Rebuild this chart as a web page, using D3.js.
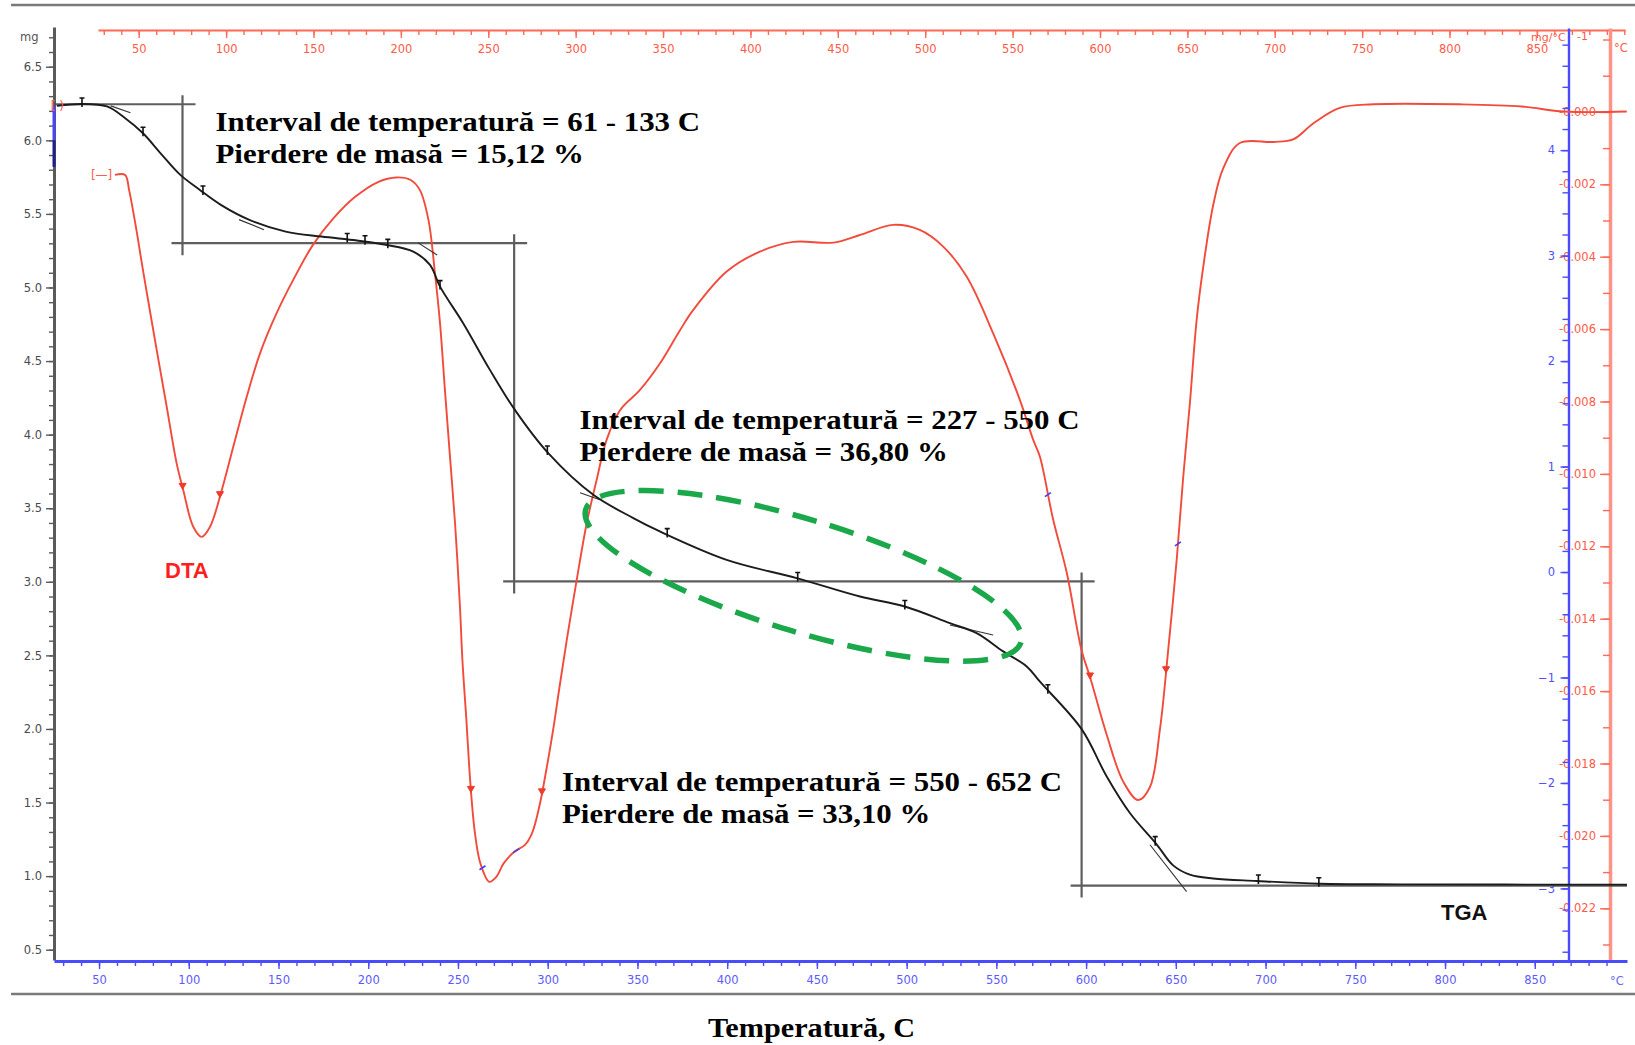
<!DOCTYPE html>
<html>
<head>
<meta charset="utf-8">
<script src="https://cdn.jsdelivr.net/npm/d3@7"></script>
<style>
  html, body { margin: 0; padding: 0; background: #fff; }
  svg { display: block; }
</style>
</head>
<body>
<svg id="chart" width="1635" height="1045"></svg>
<script>
// ---------------- data ----------------
// TGA: sample mass (mg) against temperature (bottom axis, °C)
const tgaTemp = [26.5, 40.5, 54.4, 64.4, 74.5, 84.3, 95.3, 106.2, 118.1, 134.1,
  154.0, 173.9, 193.7, 209.7, 225.1, 234.4, 240.0, 252.9, 267.8, 281.7,
  300.3, 325.4, 347.7, 362.5, 399.7, 438.7, 474.0, 499.0, 524.1, 539.0,
  553.8, 566.9, 574.3, 597.5, 611.4, 624.4, 639.3, 648.5, 657.8, 670.8,
  695.0, 730.3, 774.9, 901.4];
const tgaMass = [6.234, 6.247, 6.230, 6.152, 6.048, 5.912, 5.765, 5.663, 5.560, 5.458,
  5.380, 5.346, 5.319, 5.290, 5.244, 5.153, 5.006, 4.757, 4.440, 4.168,
  3.874, 3.591, 3.433, 3.342, 3.149, 3.025, 2.900, 2.832, 2.719, 2.651,
  2.527, 2.425, 2.321, 1.999, 1.679, 1.429, 1.216, 1.073, 1.010, 0.984,
  0.967, 0.948, 0.944, 0.942];

// derivative curve (red, labelled DTA) against temperature (top axis, °C), mg/°C
const dtgTemp = [36.4, 42.2, 44.5, 48.5, 52.6, 60.3, 66.0, 71.7, 75.5, 81.2,
  86.0, 90.8, 97.5, 104.1, 111.8, 119.4, 128.9, 138.4, 149.6, 161.6,
  173.5, 187.2, 197.4, 205.6, 210.9, 215.8, 219.5, 222.4, 225.2, 228.1,
  231.0, 233.8, 235.2, 237.4, 239.9, 242.4, 245.5, 250.6, 254.6, 258.8,
  264.9, 271.0, 275.0, 279.2, 283.2, 287.4, 290.5, 294.9, 300.6, 306.3,
  312.0, 317.7, 325.4, 336.8, 348.2, 359.7, 367.3, 386.4, 405.4, 424.5,
  447.4, 462.6, 481.7, 496.9, 510.3, 523.7, 538.9, 554.2, 561.8, 565.6,
  573.2, 580.9, 589.5, 594.3, 603.8, 613.3, 621.9, 628.6, 634.3, 639.0,
  643.8, 647.6, 651.4, 655.3, 659.0, 664.8, 670.5, 680.0, 699.1, 710.5,
  722.0, 737.2, 756.3, 805.9, 841.4, 865.4, 901.4];
const dtgRate = [-0.00174, -0.00174, -0.00216, -0.00321, -0.00442, -0.00658, -0.00814, -0.00971, -0.01045, -0.01146,
  -0.01174, -0.01146, -0.01045, -0.00925, -0.00787, -0.00667, -0.00556, -0.00464, -0.00368, -0.00293,
  -0.00236, -0.00193, -0.00181, -0.00188, -0.00216, -0.00299, -0.00446, -0.00584, -0.00768, -0.00953,
  -0.01137, -0.01367, -0.01514, -0.01674, -0.01864, -0.01993, -0.02076, -0.02127, -0.02113, -0.02076,
  -0.02044, -0.02025, -0.01993, -0.01919, -0.01818, -0.01698, -0.01597, -0.01459, -0.01293, -0.01137,
  -0.01017, -0.00906, -0.00824, -0.00768, -0.00695, -0.00603, -0.00547, -0.00441, -0.00386, -0.00359,
  -0.00361, -0.00340, -0.00312, -0.00326, -0.00372, -0.00455, -0.00612, -0.00796, -0.00906, -0.00952,
  -0.01126, -0.01271, -0.01488, -0.01561, -0.01720, -0.01850, -0.01901, -0.01865, -0.01706, -0.01488,
  -0.01242, -0.01010, -0.00807, -0.00575, -0.00431, -0.00257, -0.00156, -0.00086, -0.00083, -0.00076,
  -0.00032, 0.00011, 0.00021, 0.00021, 0.00015, 0.00001, 0.00001];

// mass-loss steps
const initialMass = 6.245;
const massLossPct = [15.12, 36.80, 33.10];
const stepIntervals = ["61 - 133", "227 - 550", "550 - 652"];
const stepTemps = [96.5, 281.3, 597.5];

// evaluation markers on the curves
const tgaMarkTemps = [40.5, 74.5, 107.9, 188.3, 198.2, 210.9, 240.0, 299.8, 366.6, 439.3, 499.0, 578.7, 638.5, 696.0, 729.7];
const dtgMarkTemps = [75.1, 96.5, 240.1, 280.7, 594.3, 637.8];
const dtgBlueMarkTemps = [246.7, 266.0, 570.2, 644.6];

// tangent constructions on the TGA curve: [T1, m1, T2, m2]
const tangents = [
  [56.5, 6.234, 67.5, 6.188],
  [128.0, 5.461, 141.9, 5.393],
  [227.8, 5.303, 238.4, 5.221],
  [318.0, 3.605, 329.1, 3.557],
  [524.1, 2.707, 548.2, 2.639],
  [635.6, 1.213, 656.0, 0.895]
];

// highlighted region: ends of the major axis [T, mg]
const highlightEnds = [[321.2, 3.492], [563.7, 2.589]];
const highlightMinorRatio = 0.246;

// cursor range shown on the mass axis
const cursorRange = [6.23, 6.0, 5.82];

// tick labels
const tempLabels = [50, 100, 150, 200, 250, 300, 350, 400, 450, 500, 550, 600, 650, 700, 750, 800, 850];
const massLabels = [0.5, 1.0, 1.5, 2.0, 2.5, 3.0, 3.5, 4.0, 4.5, 5.0, 5.5, 6.0, 6.5];
const dtaLabels = [-3, -2, -1, 0, 1, 2, 3, 4];
const dtgLabels = [0, -0.002, -0.004, -0.006, -0.008, -0.010, -0.012, -0.014, -0.016, -0.018, -0.020, -0.022];

// ---------------- scales ----------------
const xBot = d3.scaleLinear().domain([24.9, 901.4]).range([54, 1627]);
const xTop = d3.scaleLinear().domain([26.7, 900.4]).range([98, 1625]);
const yMass = d3.scaleLinear().domain([0.43, 6.77]).range([960, 27]);
const yDta = d3.scaleLinear().domain([-3.688, 5.158]).range([961, 28]);
const yDtg = d3.scaleLinear().domain([-0.023456, 0.002318]).range([961, 28]);

const svg = d3.select("#chart");
const TICK_FONT = "'DejaVu Sans', Verdana, sans-serif";
const SERIF = "'Liberation Serif', 'Times New Roman', serif";
const SANS = "'Liberation Sans', Arial, sans-serif";

// page rules
svg.append("line").attr("x1", 11).attr("x2", 1635).attr("y1", 5).attr("y2", 5)
  .attr("stroke", "#7a7a7a").attr("stroke-width", 2.5);
svg.append("line").attr("x1", 11).attr("x2", 1635).attr("y1", 994).attr("y2", 994)
  .attr("stroke", "#7a7a7a").attr("stroke-width", 2.5);

function styleAxis(g, color, lineWidth, textColor) {
  g.attr("font-family", TICK_FONT).attr("font-size", 11.5);
  g.select(".domain").attr("stroke", color).attr("stroke-width", lineWidth);
  g.selectAll(".tick line").attr("stroke", color).attr("stroke-width", 1.4);
  g.selectAll(".tick text").attr("fill", textColor);
}

// ---- top temperature axis (red) ----
const minorTemps = d3.range(30, 901, 10);
const gTop = svg.append("g").attr("transform", "translate(0,30)");
gTop.call(d3.axisBottom(xTop).tickValues(minorTemps).tickSize(5).tickFormat("").tickSizeOuter(0));
styleAxis(gTop, "#ff6a58", 2.2, "#ff5a48");
const gTopMaj = svg.append("g").attr("transform", "translate(0,30)");
gTopMaj.call(d3.axisBottom(xTop).tickValues(tempLabels).tickSize(8).tickPadding(7).tickSizeOuter(0));
gTopMaj.select(".domain").remove();
styleAxis(gTopMaj, "#ff6a58", 2.2, "#ff5a48");

// ---- right DTG axis (red) ----
const minorDtg = d3.range(-23, 3).map(i => i / 1000);
const gR = svg.append("g").attr("transform", "translate(1610,0)");
gR.call(d3.axisLeft(yDtg).tickValues(minorDtg).tickSize(7).tickFormat("").tickSizeOuter(0));
styleAxis(gR, "#ff9486", 3.5, "#ff5a48");
gR.selectAll(".tick line").attr("stroke", "#ff6a58");
const gRMaj = svg.append("g").attr("transform", "translate(1610,0)");
gRMaj.call(d3.axisLeft(yDtg).tickValues(dtgLabels).tickSize(10).tickPadding(4)
  .tickFormat(d => "-" + Math.abs(d).toFixed(3)).tickSizeOuter(0));
gRMaj.select(".domain").remove();
styleAxis(gRMaj, "#ff6a58", 2, "#ff5a48");

// ---- left mass axis (grey) ----
const minorMass = d3.range(5, 68).map(i => i / 10);
const gL = svg.append("g").attr("transform", "translate(54,0)");
gL.call(d3.axisLeft(yMass).tickValues(minorMass).tickSize(5).tickFormat("").tickSizeOuter(0));
styleAxis(gL, "#5a5a5a", 3, "#444");
const gLMaj = svg.append("g").attr("transform", "translate(54,0)");
gLMaj.call(d3.axisLeft(yMass).tickValues(massLabels).tickSize(8).tickPadding(4)
  .tickFormat(d3.format(".1f")).tickSizeOuter(0));
gLMaj.select(".domain").remove();
styleAxis(gLMaj, "#5a5a5a", 3, "#4a4a4a");
svg.append("text").attr("x", 20).attr("y", 41).attr("font-family", TICK_FONT)
  .attr("font-size", 11.5).attr("fill", "#555").text("mg");

// cursor range on the mass axis
svg.append("line").attr("x1", 54).attr("x2", 54)
  .attr("y1", yMass(cursorRange[0])).attr("y2", yMass(cursorRange[1]))
  .attr("stroke", "#4646ff").attr("stroke-width", 3);
svg.append("line").attr("x1", 54).attr("x2", 54)
  .attr("y1", yMass(cursorRange[1])).attr("y2", yMass(cursorRange[2]))
  .attr("stroke", "#1e1e8c").attr("stroke-width", 3);

// ---- bottom temperature axis (blue) ----
const gB = svg.append("g").attr("transform", "translate(0,961)");
gB.call(d3.axisBottom(xBot).tickValues(d3.range(30, 891, 10)).tickSize(5).tickFormat("").tickSizeOuter(0));
styleAxis(gB, "#4a4aff", 3, "#5b5bff");
const gBMaj = svg.append("g").attr("transform", "translate(0,961)");
gBMaj.call(d3.axisBottom(xBot).tickValues(tempLabels).tickSize(8).tickPadding(7).tickSizeOuter(0));
gBMaj.select(".domain").remove();
styleAxis(gBMaj, "#4a4aff", 3, "#5b5bff");
svg.append("text").attr("x", 1610).attr("y", 985).attr("font-family", TICK_FONT)
  .attr("font-size", 11.5).attr("fill", "#6a6ae0").text("°C");

// ---- right DTA axis (blue) ----
const gD = svg.append("g").attr("transform", "translate(1568.5,0)");
gD.call(d3.axisLeft(yDta).tickValues(d3.range(-18, 26).map(i => i / 5)).tickSize(6).tickFormat("").tickSizeOuter(0));
styleAxis(gD, "#4a4aff", 2.4, "#5050ff");
const gDMaj = svg.append("g").attr("transform", "translate(1568.5,0)");
gDMaj.call(d3.axisLeft(yDta).tickValues(dtaLabels).tickSize(8).tickPadding(5.5).tickSizeOuter(0));
gDMaj.select(".domain").remove();
styleAxis(gDMaj, "#4a4aff", 2.4, "#5050ff");

// unit captions at the top right
svg.append("text").attr("x", 1531).attr("y", 41).attr("font-family", TICK_FONT)
  .attr("font-size", 11).attr("fill", "#ff5a48").text("mg/°C");
svg.append("text").attr("x", 1577).attr("y", 40).attr("font-family", TICK_FONT)
  .attr("font-size", 11).attr("fill", "#ff5a48").text("-1");
svg.append("text").attr("x", 1614).attr("y", 52).attr("font-family", TICK_FONT)
  .attr("font-size", 11.5).attr("fill", "#ff5a48").text("°C");

// ---- mass-loss step construction ----
const levels = [initialMass];
massLossPct.forEach(p => levels.push(levels[levels.length - 1] - initialMass * p / 100));
const stepG = svg.append("g").attr("stroke", "#4d4d4d").attr("stroke-width", 2.2).attr("opacity", 0.9);
levels.forEach((lv, i) => {
  const x1 = i === 0 ? xBot.range()[0] : xBot(stepTemps[i - 1]) - 11;
  const x2 = i === levels.length - 1 ? xBot.range()[1] : xBot(stepTemps[i]) + 13;
  stepG.append("line").attr("x1", x1).attr("x2", x2).attr("y1", yMass(lv)).attr("y2", yMass(lv));
});
stepTemps.forEach((t, i) => {
  stepG.append("line").attr("x1", xBot(t)).attr("x2", xBot(t))
    .attr("y1", yMass(levels[i]) - 9).attr("y2", yMass(levels[i + 1]) + 12);
});

// ---- curves ----
const tgaData = tgaTemp.map((t, i) => [t, tgaMass[i]]);
const dtgData = dtgTemp.map((t, i) => [t, dtgRate[i]]);

const tgaLine = d3.line().x(d => xBot(d[0])).y(d => yMass(d[1])).curve(d3.curveCatmullRom.alpha(0.5));
const dtgLine = d3.line().x(d => xTop(d[0])).y(d => yDtg(d[1])).curve(d3.curveCatmullRom.alpha(0.5));

svg.append("path").datum(dtgData).attr("d", dtgLine)
  .attr("fill", "none").attr("stroke", "#f24b3b").attr("stroke-width", 1.9);

// tangent constructions
svg.append("g").selectAll("line").data(tangents).join("line")
  .attr("x1", d => xBot(d[0])).attr("y1", d => yMass(d[1]))
  .attr("x2", d => xBot(d[2])).attr("y2", d => yMass(d[3]))
  .attr("stroke", "#333").attr("stroke-width", 1.1);

svg.append("path").datum(tgaData).attr("d", tgaLine)
  .attr("fill", "none").attr("stroke", "#1c1c1c").attr("stroke-width", 1.9);

// curve markers
const tgaAt = t => d3.scaleLinear().domain(tgaTemp).range(tgaMass)(t);
const dtgAt = t => d3.scaleLinear().domain(dtgTemp).range(dtgRate)(t);
const markG = svg.append("g").attr("stroke-width", 1.6);
tgaMarkTemps.forEach(t => {
  const x = xBot(t), y = yMass(tgaAt(t));
  markG.append("path").attr("d", `M${x},${y + 3}V${y - 6}M${x - 2.5},${y - 6}H${x + 2.5}`)
    .attr("stroke", "#111").attr("fill", "none");
});
dtgMarkTemps.forEach(t => {
  const x = xTop(t), y = yDtg(dtgAt(t));
  markG.append("path").attr("d", `M${x - 3.5},${y - 4}H${x + 3.5}L${x},${y + 2}Z`)
    .attr("stroke", "#f03a2a").attr("fill", "#f03a2a").attr("stroke-width", 1);
});
dtgBlueMarkTemps.forEach(t => {
  const x = xTop(t), y = yDtg(dtgAt(t));
  markG.append("path").attr("d", `M${x - 3},${y + 2}L${x + 3},${y - 2}`)
    .attr("stroke", "#3d3dff").attr("fill", "none");
});

// start brackets
svg.append("text").attr("x", xBot(tgaTemp[0]) - 6).attr("y", yMass(tgaMass[0]) + 4)
  .attr("font-family", TICK_FONT).attr("font-size", 12).attr("fill", "#ff5a48").text("[  )");
svg.append("text").attr("x", xTop(dtgTemp[0]) - 24).attr("y", yDtg(dtgRate[0]) + 4)
  .attr("font-family", TICK_FONT).attr("font-size", 12).attr("fill", "#ff5a48").text("[—]");

// ---- highlighted region ----
{
  const p1 = [xBot(highlightEnds[0][0]), yMass(highlightEnds[0][1])];
  const p2 = [xBot(highlightEnds[1][0]), yMass(highlightEnds[1][1])];
  const cx = (p1[0] + p2[0]) / 2, cy = (p1[1] + p2[1]) / 2;
  const a = Math.hypot(p2[0] - p1[0], p2[1] - p1[1]) / 2;
  const ang = Math.atan2(p2[1] - p1[1], p2[0] - p1[0]) * 180 / Math.PI;
  svg.append("ellipse").attr("cx", cx).attr("cy", cy).attr("rx", a).attr("ry", a * highlightMinorRatio)
    .attr("transform", `rotate(${ang},${cx},${cy})`)
    .attr("fill", "none").attr("stroke", "#1aa84a").attr("stroke-width", 5.5)
    .attr("stroke-dasharray", "25,14");
}

// ---- annotations ----
const noteAnchors = [[215.5, 130.5], [579.5, 428.5], [562, 791]];
const fmtPct = v => d3.format(".2f")(v).replace(".", ",");
noteAnchors.forEach((p, i) => {
  const g = svg.append("g").attr("transform", `translate(${p[0]},${p[1]}) scale(1.165,1)`)
    .attr("font-family", SERIF).attr("font-weight", "bold").attr("font-size", 26.5).attr("fill", "#000");
  g.append("text").attr("x", 0).attr("y", 0).text(`Interval de temperatură = ${stepIntervals[i]} C`);
  g.append("text").attr("x", 0).attr("y", 32.5).text(`Pierdere de masă = ${fmtPct(massLossPct[i])} %`);
});

svg.append("text").attr("x", 165).attr("y", 578).attr("font-family", SANS).attr("font-weight", "bold")
  .attr("font-size", 22).attr("fill", "#ff1e1e").text("DTA");
svg.append("text").attr("x", 1441).attr("y", 920).attr("font-family", SANS).attr("font-weight", "bold")
  .attr("font-size", 22).attr("fill", "#111").text("TGA");

svg.append("g").attr("transform", "translate(811.5,1037) scale(1.08,1)")
  .append("text").attr("text-anchor", "middle").attr("font-family", SERIF).attr("font-weight", "bold")
  .attr("font-size", 28).attr("fill", "#000").text("Temperatură, C");
</script>
</body>
</html>
